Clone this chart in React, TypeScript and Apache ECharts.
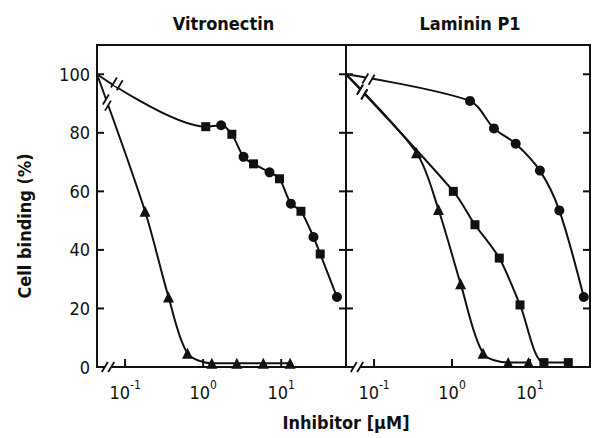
import React, { useEffect, useRef } from "react";
import * as echarts from "echarts";

// ---- data (concentration in µM, binding in %) ----
const controlBinding = 100; // no inhibitor (plotted at the broken-axis origin)

const vnCircleConc = [1.7, 3.29, 7.08, 13.3, 25.9, 51.8];
const vnCircleVal = [82.6, 71.8, 66.5, 55.8, 44.4, 23.9];
const vnSquareConc = [1.08, 2.33, 4.42, 9.5, 17.9, 31.6];
const vnSquareVal = [82.1, 79.5, 69.4, 64.3, 53.2, 38.6];
const vnTriConc = [0.18, 0.36, 0.63, 1.29, 2.7, 5.9, 13];
const vnTriVal = [53.2, 23.9, 4.7, 1.3, 1.3, 1.3, 1.3];

const lnCircleConc = [1.7, 3.45, 6.56, 13.4, 23.8, 49];
const lnCircleVal = [90.9, 81.5, 76.3, 67.1, 53.5, 23.9];
const lnSquareConc = [1.04, 1.97, 4.04, 7.45, 15.1, 31];
const lnSquareVal = [60, 48.6, 37.2, 21.2, 1.5, 1.5];
const lnTriConc = [0.35, 0.67, 1.29, 2.5, 5.25, 9.6];
const lnTriVal = [73.2, 53.8, 28.4, 4.7, 1.5, 1.5];

const panelTitles = ["Vitronectin", "Laminin P1"];
const xTickExponents = [-1, 0, 1];
const yTickValues = [0, 20, 40, 60, 80, 100];
const xAxisTitle = "Inhibitor [µM]";
const yAxisTitle = "Cell binding (%)";

// ---- layout / style ----
const FONT = '"DejaVu Sans Condensed", "Liberation Sans Narrow", "DejaVu Sans", sans-serif';
const INK = "#111";
const grids = [
  { left: 97, top: 45, width: 249, height: 322 },
  { left: 346, top: 45, width: 244, height: 322 },
];
const xRanges = [
  [-1.36, 1.83],
  [-1.36, 1.77],
];

const pts = (c: number[], v: number[]) => c.map((x, i) => [Math.log10(x), v[i]]);
const curve = (xmin: number, ...sets: number[][][]) => {
  const all = ([] as number[][]).concat(...sets).sort((a, b) => a[0] - b[0]);
  return [[xmin, controlBinding], ...all];
};

function buildOption() {
  const panels = [
    {
      circles: pts(vnCircleConc, vnCircleVal),
      squares: pts(vnSquareConc, vnSquareVal),
      tris: pts(vnTriConc, vnTriVal),
      curves: [] as number[][][],
    },
    {
      circles: pts(lnCircleConc, lnCircleVal),
      squares: pts(lnSquareConc, lnSquareVal),
      tris: pts(lnTriConc, lnTriVal),
      curves: [] as number[][][],
    },
  ];
  panels[0].curves = [
    curve(xRanges[0][0], panels[0].circles, panels[0].squares),
    curve(xRanges[0][0], panels[0].tris),
  ];
  panels[1].curves = [
    curve(xRanges[1][0], panels[1].circles),
    curve(xRanges[1][0], panels[1].squares),
    curve(xRanges[1][0], panels[1].tris),
  ];

  const series: any[] = [];
  panels.forEach((p, g) => {
    p.curves.forEach((d) => {
      series.push({
        type: "line",
        xAxisIndex: g,
        yAxisIndex: g,
        data: d,
        smooth: 0.3,
        symbol: "none",
        lineStyle: { color: INK, width: 2 },
        silent: true,
        z: 2,
      });
    });
    const sc = (data: number[][], symbol: string, size: number) => ({
      type: "scatter",
      xAxisIndex: g,
      yAxisIndex: g,
      data,
      symbol,
      symbolSize: size,
      itemStyle: { color: INK, opacity: 1 },
      z: 3,
    });
    series.push(sc(p.circles, "circle", 10));
    series.push(sc(p.squares, "rect", 9));
    series.push(sc(p.tris, "triangle", 11));
  });

  const xAxis = grids.map((_, g) => ({
    type: "value",
    gridIndex: g,
    position: "bottom",
    min: xRanges[g][0],
    max: xRanges[g][1],
    axisLine: { show: true, onZero: false, lineStyle: { color: INK, width: 2 } },
    splitLine: { show: false },
    axisTick: { show: false },
    axisLabel: {
      show: true,
      margin: 12,
      customValues: xTickExponents,
      formatter: (v: number) => `{b|10}{s|${v < 0 ? "-" + Math.abs(v) : v}}`,
      rich: {
        b: { fontFamily: FONT, fontSize: 18, color: INK, lineHeight: 22, verticalAlign: "bottom" },
        s: { fontFamily: FONT, fontSize: 12, color: INK, lineHeight: 12, verticalAlign: "top" },
      },
    },
  }));

  const yAxis = grids.map((_, g) => ({
    type: "value",
    gridIndex: g,
    position: "left",
    min: 0,
    max: 110,
    axisLine: { show: true, onZero: false, lineStyle: { color: INK, width: 2 } },
    splitLine: { show: false },
    axisTick: { show: false },
    axisLabel: {
      show: g === 0,
      customValues: yTickValues,
      margin: 7,
      fontFamily: FONT,
      fontSize: 18,
      color: INK,
    },
  }));

  return {
    animation: false,
    backgroundColor: "#fff",
    grid: grids.map((gr) => ({
      ...gr,
      show: true,
      borderColor: INK,
      borderWidth: 2,
      backgroundColor: "transparent",
    })),
    xAxis,
    yAxis,
    series,
    _panels: panels,
  };
}

// "//" break mark: fixed slash orientation, gap cut along the line direction
function breakMark(cx: number, cy: number, ux: number, uy: number) {
  const ang = Math.atan2(uy, ux);
  const sep = 3.2;
  const slash = (s: number) => {
    const mx = cx + ux * s;
    const my = cy + uy * s;
    return {
      type: "line",
      z: 101,
      shape: { x1: mx - 3, y1: my + 5, x2: mx + 3, y2: my - 5 },
      style: { stroke: INK, lineWidth: 1.8 },
    };
  };
  return {
    type: "group",
    z: 100,
    children: [
      {
        type: "rect",
        x: cx,
        y: cy,
        rotation: -ang,
        z: 100,
        shape: { x: -sep, y: -2.5, width: sep * 2, height: 5 },
        style: { fill: "#fff" },
      },
      slash(-sep),
      slash(sep),
    ],
  };
}

// tick drawn as a small filled bar
const tickBar = (x: number, y: number, w: number, h: number) => ({
  type: "rect",
  z: 100,
  shape: { x, y, width: w, height: h },
  style: { fill: INK },
});

export default function App() {
  const ref = useRef<HTMLDivElement>(null);
  useEffect(() => {
    if (!ref.current) return;
    const chart = echarts.init(ref.current, null, { renderer: "svg" });
    const opt: any = buildOption();
    const panels = opt._panels;
    delete opt._panels;
    chart.setOption(opt);

    const elements: any[] = [];
    const px = (g: number, v: number[]) => chart.convertToPixel({ gridIndex: g } as any, v) as number[];

    // inward ticks on all vertical edges and on the bottom axis
    const ticks: any[] = [];
    grids.forEach((gr, g) => {
      const xl = xRanges[g][0];
      const xr = xRanges[g][1];
      yTickValues.forEach((v) => {
        const a = px(g, [xl, v]);
        const b = px(g, [xr, v]);
        ticks.push(tickBar(a[0], a[1] - 1, 7, 2));
        ticks.push(tickBar(b[0] - 7, b[1] - 1, 7, 2));
      });
      xTickExponents.forEach((e) => {
        const a = px(g, [e, 0]);
        ticks.push(tickBar(a[0] - 1, a[1] - 8, 2, 8));
      });
    });
    elements.push({ type: "group", z: 100, children: ticks });

    const breakDist = [
      [22, 30],
      [23, 24, 24],
    ];
    panels.forEach((p: any, g: number) => {
      p.curves.forEach((d: number[][], ci: number) => {
        const a = px(g, d[0]);
        const b = px(g, d[1]);
        const dx = b[0] - a[0];
        const dy = b[1] - a[1];
        const len = Math.hypot(dx, dy);
        const t = breakDist[g][ci];
        elements.push(breakMark(a[0] + (dx / len) * t, a[1] + (dy / len) * t, dx / len, dy / len));
      });
      const o = px(g, [xRanges[g][0], 0]);
      elements.push(breakMark(o[0] + 11, o[1], 1, 0));
    });

    const titleCenters = grids.map((gr) => gr.left + gr.width / 2);
    panelTitles.forEach((t, i) =>
      elements.push({
        type: "text",
        x: titleCenters[i] + 2,
        y: 23,
        z: 100,
        style: {
          text: t,
          fill: INK,
          font: `bold 18px ${FONT}`,
          textAlign: "center",
          textVerticalAlign: "middle",
        },
      })
    );
    elements.push({
      type: "text",
      x: grids[1].left,
      y: 422,
      z: 100,
      style: {
        text: xAxisTitle,
        fill: INK,
        font: `bold 18px ${FONT}`,
        textAlign: "center",
        textVerticalAlign: "middle",
      },
    });
    elements.push({
      type: "text",
      x: 24,
      y: 226,
      rotation: Math.PI / 2,
      z: 100,
      style: {
        text: yAxisTitle,
        fill: INK,
        font: `bold 18px ${FONT}`,
        textAlign: "center",
        textVerticalAlign: "middle",
      },
    });
    chart.setOption({ graphic: { elements } });
    return () => chart.dispose();
  }, []);
  return (
    <div
      ref={ref}
      style={{ position: "absolute", left: 0, top: 0, width: 594, height: 438 }}
    />
  );
}
